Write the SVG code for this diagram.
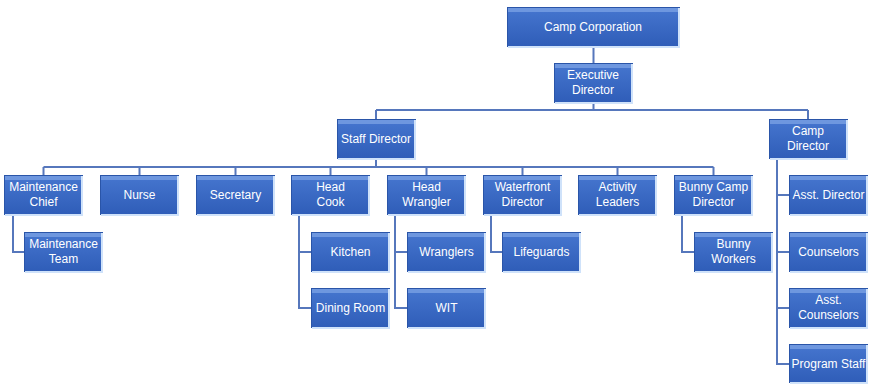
<svg xmlns="http://www.w3.org/2000/svg" width="870" height="384" viewBox="0 0 870 384">
<defs>
<linearGradient id="g" x1="0" y1="0" x2="0" y2="1">
<stop offset="0" stop-color="#4676CF"/>
<stop offset="1" stop-color="#2F5DB8"/>
</linearGradient>
<style>
.b{fill:url(#g);stroke:#2A55A8;stroke-width:1}
.hl{fill:#6E97DF}
.ed{fill:none;stroke:#CFE2FA;stroke-width:2}
.t{font-family:"Liberation Sans",Arial,sans-serif;font-size:12px;fill:#FFFFFF;text-anchor:middle}
.c{fill:none;stroke:#5677BC;stroke-width:2}
</style>
</defs>
<rect width="870" height="384" fill="#FFFFFF"/>
<g id="connectors">
<path class="c" d="M593.5 47V63M593.5 102V110M376 110H808M376 110V119M808 110V119"/>
<path class="c" d="M376 159V167M43.5 167H713.5M43.5 167V175M139.5 167V175M235.5 167V175M330.5 167V175M426.5 167V175M522.5 167V175M617.5 167V175M713.5 167V175"/>
<path class="c" d="M13 215V252H24M299 215V308H311M299 252H311M395 215V308H407M395 252H407M491 215V252H502M682 215V252H694M777 159V364H789M777 195H789M777 252H789M777 308H789"/>
</g>
<g id="n-corp"><rect class="b" x="507.5" y="7.5" width="172" height="39"/><rect class="hl" x="508" y="8" width="171" height="4"/><path class="ed" d="M679 8V47H508"/><text class="t" x="593" y="31">Camp Corporation</text></g>
<g id="n-exec"><rect class="b" x="554.5" y="63.5" width="78" height="39"/><rect class="hl" x="555" y="64" width="77" height="4"/><path class="ed" d="M632 64V103H555"/><text class="t" x="593" y="79">Executive</text><text class="t" x="593" y="94">Director</text></g>
<g id="n-staff"><rect class="b" x="337.5" y="119.5" width="78" height="39"/><rect class="hl" x="338" y="120" width="77" height="4"/><path class="ed" d="M415 120V159H338"/><text class="t" x="376" y="143">Staff Director</text></g>
<g id="n-campdir"><rect class="b" x="769.5" y="119.5" width="78" height="39"/><rect class="hl" x="770" y="120" width="77" height="4"/><path class="ed" d="M847 120V159H770"/><text class="t" x="808" y="135">Camp</text><text class="t" x="808" y="150">Director</text></g>
<g id="n-maintchief"><rect class="b" x="4.5" y="175.5" width="78" height="39"/><rect class="hl" x="5" y="176" width="77" height="4"/><path class="ed" d="M82 176V215H5"/><text class="t" x="43.5" y="191">Maintenance</text><text class="t" x="43.5" y="206">Chief</text></g>
<g id="n-nurse"><rect class="b" x="100.5" y="175.5" width="78" height="39"/><rect class="hl" x="101" y="176" width="77" height="4"/><path class="ed" d="M178 176V215H101"/><text class="t" x="139.5" y="199">Nurse</text></g>
<g id="n-secretary"><rect class="b" x="196.5" y="175.5" width="78" height="39"/><rect class="hl" x="197" y="176" width="77" height="4"/><path class="ed" d="M274 176V215H197"/><text class="t" x="235.5" y="199">Secretary</text></g>
<g id="n-headcook"><rect class="b" x="291.5" y="175.5" width="78" height="39"/><rect class="hl" x="292" y="176" width="77" height="4"/><path class="ed" d="M369 176V215H292"/><text class="t" x="330.5" y="191">Head</text><text class="t" x="330.5" y="206">Cook</text></g>
<g id="n-headwrangler"><rect class="b" x="387.5" y="175.5" width="78" height="39"/><rect class="hl" x="388" y="176" width="77" height="4"/><path class="ed" d="M465 176V215H388"/><text class="t" x="426.5" y="191">Head</text><text class="t" x="426.5" y="206">Wrangler</text></g>
<g id="n-waterfront"><rect class="b" x="483.5" y="175.5" width="78" height="39"/><rect class="hl" x="484" y="176" width="77" height="4"/><path class="ed" d="M561 176V215H484"/><text class="t" x="522.5" y="191">Waterfront</text><text class="t" x="522.5" y="206">Director</text></g>
<g id="n-activity"><rect class="b" x="578.5" y="175.5" width="78" height="39"/><rect class="hl" x="579" y="176" width="77" height="4"/><path class="ed" d="M656 176V215H579"/><text class="t" x="617.5" y="191">Activity</text><text class="t" x="617.5" y="206">Leaders</text></g>
<g id="n-bunnycamp"><rect class="b" x="674.5" y="175.5" width="78" height="39"/><rect class="hl" x="675" y="176" width="77" height="4"/><path class="ed" d="M752 176V215H675"/><text class="t" x="713.5" y="191">Bunny Camp</text><text class="t" x="713.5" y="206">Director</text></g>
<g id="n-maintteam"><rect class="b" x="24.5" y="232.5" width="78" height="39"/><rect class="hl" x="25" y="233" width="77" height="4"/><path class="ed" d="M102 233V272H25"/><text class="t" x="63.5" y="248">Maintenance</text><text class="t" x="63.5" y="263">Team</text></g>
<g id="n-kitchen"><rect class="b" x="311.5" y="232.5" width="78" height="39"/><rect class="hl" x="312" y="233" width="77" height="4"/><path class="ed" d="M389 233V272H312"/><text class="t" x="350.5" y="256">Kitchen</text></g>
<g id="n-dining"><rect class="b" x="311.5" y="288.5" width="78" height="39"/><rect class="hl" x="312" y="289" width="77" height="4"/><path class="ed" d="M389 289V328H312"/><text class="t" x="350.5" y="312">Dining Room</text></g>
<g id="n-wranglers"><rect class="b" x="407.5" y="232.5" width="78" height="39"/><rect class="hl" x="408" y="233" width="77" height="4"/><path class="ed" d="M485 233V272H408"/><text class="t" x="446.5" y="256">Wranglers</text></g>
<g id="n-wit"><rect class="b" x="407.5" y="288.5" width="78" height="39"/><rect class="hl" x="408" y="289" width="77" height="4"/><path class="ed" d="M485 289V328H408"/><text class="t" x="446.5" y="312">WIT</text></g>
<g id="n-lifeguards"><rect class="b" x="502.5" y="232.5" width="78" height="39"/><rect class="hl" x="503" y="233" width="77" height="4"/><path class="ed" d="M580 233V272H503"/><text class="t" x="541.5" y="256">Lifeguards</text></g>
<g id="n-bunnyworkers"><rect class="b" x="694.5" y="232.5" width="78" height="39"/><rect class="hl" x="695" y="233" width="77" height="4"/><path class="ed" d="M772 233V272H695"/><text class="t" x="733.5" y="248">Bunny</text><text class="t" x="733.5" y="263">Workers</text></g>
<g id="n-asstdir"><rect class="b" x="789.5" y="175.5" width="78" height="39"/><rect class="hl" x="790" y="176" width="77" height="4"/><path class="ed" d="M867 176V215H790"/><text class="t" x="828.5" y="199">Asst. Director</text></g>
<g id="n-counselors"><rect class="b" x="789.5" y="232.5" width="78" height="39"/><rect class="hl" x="790" y="233" width="77" height="4"/><path class="ed" d="M867 233V272H790"/><text class="t" x="828.5" y="256">Counselors</text></g>
<g id="n-asstcounselors"><rect class="b" x="789.5" y="288.5" width="78" height="39"/><rect class="hl" x="790" y="289" width="77" height="4"/><path class="ed" d="M867 289V328H790"/><text class="t" x="828.5" y="304">Asst.</text><text class="t" x="828.5" y="319">Counselors</text></g>
<g id="n-programstaff"><rect class="b" x="789.5" y="344.5" width="78" height="38"/><rect class="hl" x="790" y="345" width="77" height="4"/><path class="ed" d="M867 345V383H790"/><text class="t" x="828.5" y="368">Program Staff</text></g>
</svg>
